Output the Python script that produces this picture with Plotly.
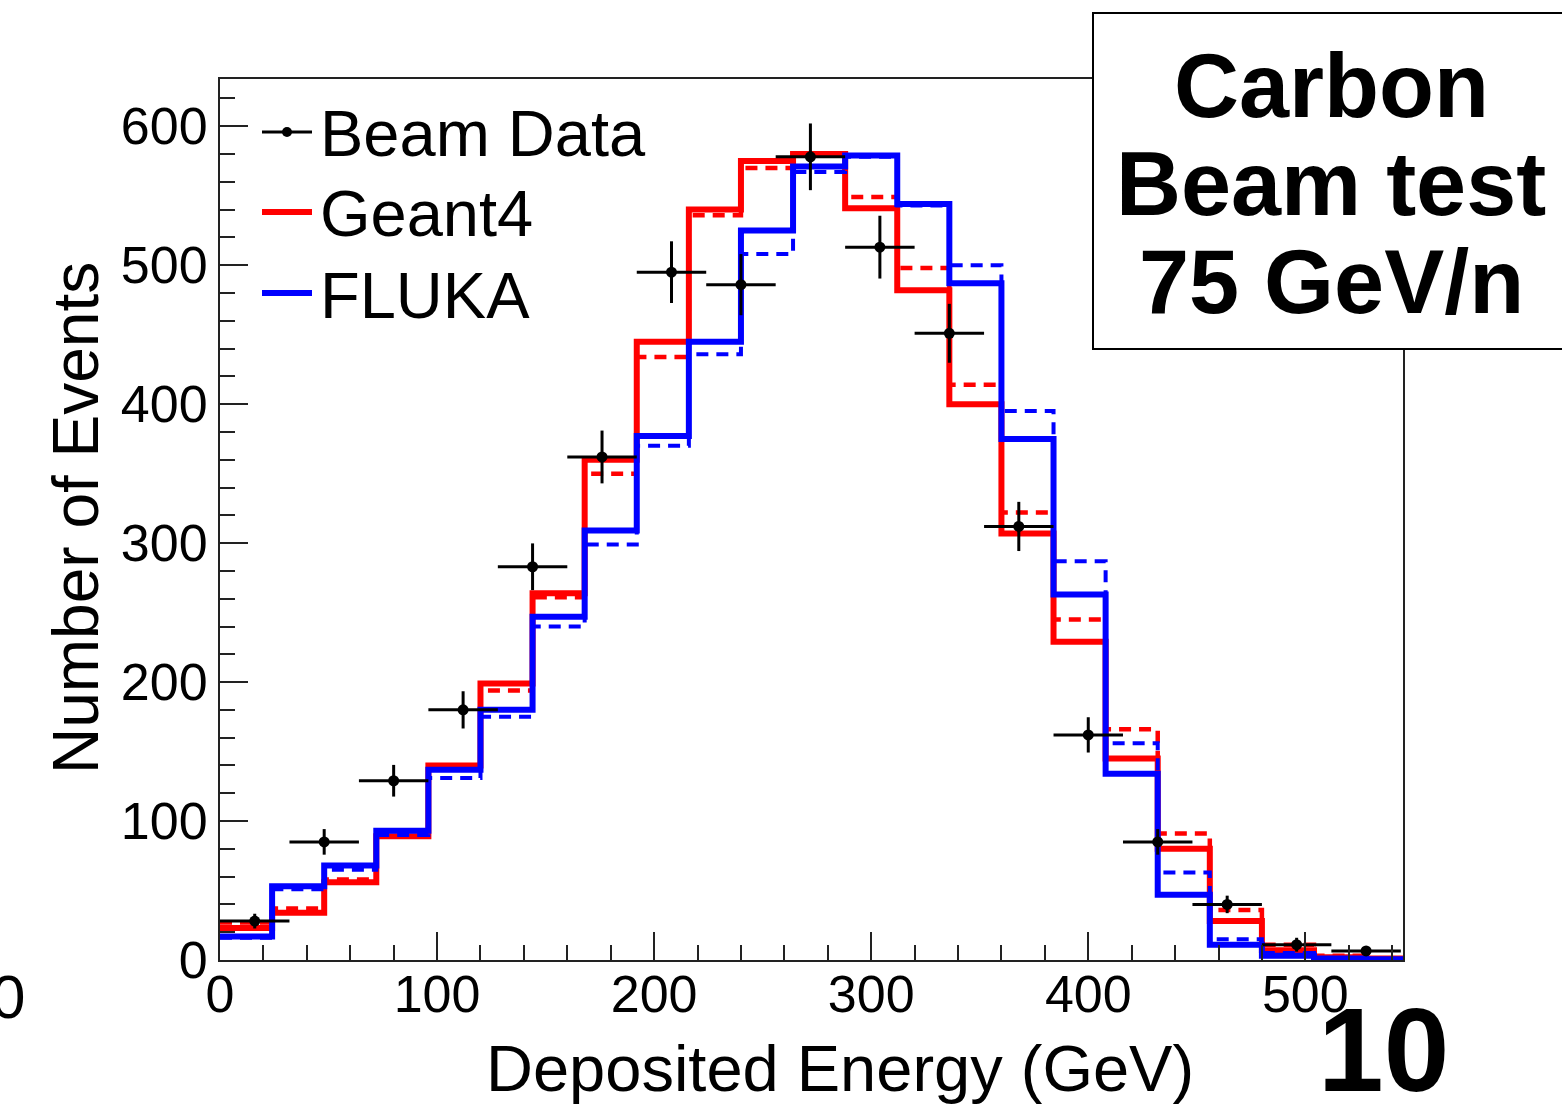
import plotly.graph_objects as go

# ---------------- data ----------------
bin_edges = [0, 24, 48, 72, 96, 120, 144, 168, 192, 216, 240, 264, 288, 312,
             336, 360, 384, 408, 432, 456, 480, 504, 528, 552]

geant4_solid = [23, 34, 56, 89, 140, 199, 264, 360, 445, 540, 575, 580, 541,
                482, 400, 307, 229, 145, 80, 28, 7, 2, 1]
geant4_dashed = [27, 37, 58, 89, 138, 194, 261, 350, 434, 536, 570, 579, 549,
                 498, 414, 322, 245, 166, 91, 36, 11, 3, 1]
fluka_solid = [17, 53, 68, 93, 137, 180, 247, 309, 377, 445, 525, 571, 579,
               544, 487, 375, 263, 134, 47, 11, 3, 1, 0.5]
fluka_dashed = [16, 51, 65, 90, 131, 175, 240, 299, 370, 436, 508, 567, 578,
                543, 500, 395, 287, 156, 63, 15, 5, 1, 0.5]

data_x = [16, 48, 80, 112, 144, 176, 208, 240, 272, 304, 336, 368, 400, 432,
          464, 496, 528]
data_y = [28, 85, 129, 180, 283, 362, 495, 486, 578, 513, 451, 312, 162, 85,
          40, 11, 6.5]
data_xerr = [16, 16, 16, 16, 16, 16, 16, 16, 16, 16, 16, 16, 16, 16, 16, 16, 16]
data_yerr = [5.3, 9.2, 11.4, 13.4, 16.8, 19.0, 22.2, 22.0, 24.0, 22.6, 21.2,
             17.7, 12.7, 9.2, 6.3, 5.0, 2.5]

x_ticks = [0, 100, 200, 300, 400, 500]
y_ticks = [0, 100, 200, 300, 400, 500, 600]

legend_labels = ["Beam Data", "Geant4", "FLUKA"]
box_lines = ["Carbon", "Beam test", "75 GeV/n"]

# ---------------- geometry helpers (layout only) ----------------
W, H = 1562, 1106
L, R, T, B = 220, 1403, 79, 960


def px(xp):
    return (xp - L) / (R - L)


def py(yp):
    return (B - yp) / (B - T)


FONT = "Liberation Sans, Arial, Helvetica, sans-serif"
RED = "#ff0000"
BLUE = "#0000ff"


def step(vals):
    return list(vals) + [vals[-1]]


fig = go.Figure()

for vals, color, dash, width in [
    (geant4_dashed, RED, "12px,8px", 4.5),
    (geant4_solid, RED, "solid", 6),
    (fluka_dashed, BLUE, "12px,8px", 4),
    (fluka_solid, BLUE, "solid", 6),
]:
    fig.add_trace(go.Scatter(
        x=bin_edges, y=step(vals), mode="lines",
        line=dict(shape="hv", color=color, dash=dash, width=width),
        showlegend=False, hoverinfo="skip",
    ))

fig.add_trace(go.Scatter(
    x=data_x, y=data_y, mode="markers",
    marker=dict(color="black", size=11),
    error_x=dict(type="data", array=data_xerr, color="black", thickness=3, width=0),
    error_y=dict(type="data", array=data_yerr, color="black", thickness=3, width=0),
    showlegend=False, name="Beam Data",
))

axis_common = dict(
    showgrid=False, zeroline=False, showline=True, linewidth=2,
    linecolor="#222222", mirror=True, ticks="inside", ticklen=28,
    tickwidth=2, tickcolor="#222222",
    tickfont=dict(family=FONT, size=52, color="black"),
    minor=dict(ticks="inside", ticklen=15, tickwidth=1.5,
               tickcolor="#222222", dtick=20, tick0=0, showgrid=False),
)

fig.update_layout(
    width=W, height=H, autosize=False,
    margin=dict(l=L, r=W - R, t=T, b=H - B),
    paper_bgcolor="white", plot_bgcolor="white",
    showlegend=False,
    xaxis=dict(range=[0, 545], tickvals=x_ticks, ticklabelstandoff=-12,
               **axis_common),
    yaxis=dict(range=[0, 634], tickvals=y_ticks, ticklabelstandoff=0,
               **axis_common),
)

shapes = []
annotations = []

# axis titles
annotations.append(dict(
    xref="paper", yref="paper", x=px(1196), y=py(1068),
    xanchor="right", yanchor="middle", showarrow=False,
    text="Deposited Energy (GeV)",
    font=dict(family=FONT, size=65, color="black"),
))
annotations.append(dict(
    xref="paper", yref="paper", x=px(76), y=py(518),
    xanchor="center", yanchor="middle", showarrow=False, textangle=-90,
    text="Number of Events",
    font=dict(family=FONT, size=64, color="black"),
))

# manual legend
leg_y = [132, 212, 293]
leg_colors = ["black", RED, BLUE]
leg_widths = [3, 6, 6]
for lab, yy, col, lw in zip(legend_labels, leg_y, leg_colors, leg_widths):
    shapes.append(dict(type="line", xref="paper", yref="paper",
                       x0=px(262), x1=px(312), y0=py(yy), y1=py(yy),
                       line=dict(color=col, width=lw)))
    annotations.append(dict(
        xref="paper", yref="paper", x=px(318), y=py(yy + 2),
        xanchor="left", yanchor="middle", showarrow=False, text=lab,
        font=dict(family=FONT, size=65, color="black"),
    ))
shapes.append(dict(type="circle", xref="paper", yref="paper",
                   x0=px(282), x1=px(292), y0=py(137), y1=py(127),
                   fillcolor="black", line=dict(color="black", width=0)))

# title box
shapes.append(dict(type="rect", xref="paper", yref="paper",
                   x0=px(1093), x1=px(1620), y0=py(349), y1=py(13),
                   fillcolor="white", line=dict(color="black", width=2),
                   layer="above"))
for txt, yc in zip(box_lines, [86, 184, 282]):
    annotations.append(dict(
        xref="paper", yref="paper", x=px(1331), y=py(yc),
        xanchor="center", yanchor="middle", showarrow=False,
        text="<b>%s</b>" % txt,
        font=dict(family=FONT, size=90, color="black"),
    ))

# page number & stray label
annotations.append(dict(
    xref="paper", yref="paper", x=px(1383), y=py(1050),
    xanchor="center", yanchor="middle", showarrow=False, text="<b>10</b>",
    font=dict(family=FONT, size=118, color="black"),
))
annotations.append(dict(
    xref="paper", yref="paper", x=px(8), y=py(997),
    xanchor="center", yanchor="middle", showarrow=False, text="0",
    font=dict(family=FONT, size=62, color="black"),
))

fig.update_layout(shapes=shapes, annotations=annotations)

fig.write_html("out.html")
